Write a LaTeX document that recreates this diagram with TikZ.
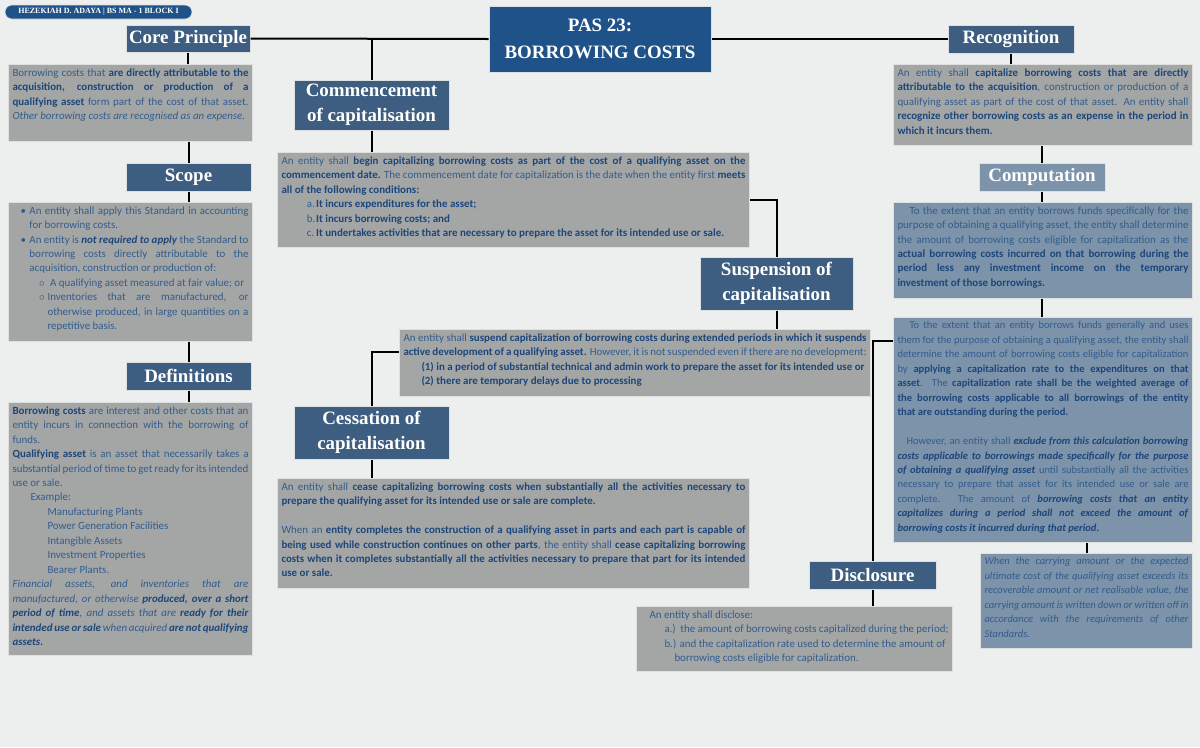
\documentclass[tikz,border=0pt]{standalone}
\usepackage{fontspec}
\setmainfont{Carlito}
\newfontfamily\headfont{Liberation Serif}
\usetikzlibrary{positioning}

\definecolor{pagebg}{RGB}{237,239,239}
\definecolor{titleblue}{RGB}{31,82,136}
\definecolor{headblue}{RGB}{61,94,128}
\definecolor{lightblue}{RGB}{124,147,170}
\definecolor{boxgray}{RGB}{164,166,166}
\definecolor{edge}{RGB}{222,224,224}
\definecolor{txtblue}{RGB}{50,92,140}
\definecolor{boldblue}{RGB}{28,70,122}

\newcommand{\keyterm}[1]{\textbf{\color{boldblue}#1}}
\newcommand{\boxtext}[3]{\begin{minipage}[c][#2][t]{#1}#3\end{minipage}}
\newcommand{\bulitem}[4]{\par\hangindent=#2\hangafter=1\noindent\hspace*{#1}\makebox[\dimexpr#2-#1\relax][l]{#3}#4\par}

\tikzset{
  header/.style={fill=headblue, draw=edge, line width=0.75pt, text=white, inner sep=0pt, align=center,
    font=\headfont\bfseries\fontsize{14.2}{18.75}\selectfont},
  infobox/.style={fill=boxgray, draw=edge, line width=0.75pt, text=txtblue, inner sep=3pt, anchor=north west,
    font=\fontsize{8.2}{10.85}\selectfont},
  bluebox/.style={infobox, fill=lightblue},
  small/.style={font=\fontsize{7.9}{10.85}\selectfont},
  link/.style={line width=1.5pt, black}
}

\begin{document}
\begin{tikzpicture}[x=0.75pt,y=0.75pt,yscale=-1,xscale=1]
\fill[pagebg, use as bounding box] (0,0) rectangle (1200,747);

% author tag and title
\node[fill=titleblue, draw=edge, line width=0.5pt, rounded corners=5.25pt, minimum width=140.25pt, minimum height=10.5pt,
  inner sep=0pt, text=white, font=\headfont\bfseries\fontsize{6}{7}\selectfont] (author) at (98.5,12) {HEZEKIAH D. ADAYA | BS MA - 1 BLOCK I};
\node[header, fill=titleblue, minimum width=166.5pt, minimum height=49.5pt, font=\headfont\bfseries\fontsize{14.2}{20.25}\selectfont] (title) at (600,39) {PAS 23:\\BORROWING COSTS};

% left column
\node[header, minimum width=93pt, minimum height=20.25pt] (core) at (188,38.5) {Core Principle};
\node[infobox] (coreTxt) at (8,64) {\boxtext{177pt}{51.75pt}{%
Borrowing costs that \keyterm{are directly attributable to the}\linebreak
\keyterm{acquisition, construction or production of a}\linebreak
\keyterm{qualifying asset} form part of the cost of that asset.\linebreak
\textit{Other borrowing costs are recognised as an expense.}}};

\node[header, minimum width=93.75pt, minimum height=21pt] (scope) at (188.5,177) {Scope};
\node[infobox] (scopeTxt) at (8,202) {\boxtext{177pt}{98.25pt}{%
\bulitem{6pt}{12.75pt}{\textbullet}{An entity shall apply this Standard in accounting\linebreak for borrowing costs.}
\bulitem{6pt}{12.75pt}{\textbullet}{An entity is \keyterm{\textit{not required to apply}} the Standard to\linebreak
 borrowing costs directly attributable to the\linebreak acquisition, construction or production of:}
\bulitem{20pt}{26.25pt}{$\circ$}{\hspace{2pt}A qualifying asset measured at fair value; or}
\bulitem{20pt}{26.25pt}{$\circ$}{Inventories that are manufactured, or\linebreak
 otherwise produced, in large quantities on a\linebreak repetitive basis.}}};

\node[header, minimum width=93.75pt, minimum height=21pt] (defs) at (188.5,376) {Definitions};
\node[infobox] (defTxt) at (8,402) {\boxtext{177pt}{183.75pt}{%
\keyterm{Borrowing costs} are interest and other costs that an\linebreak
entity incurs in connection with the borrowing of\linebreak funds.\\
\keyterm{Qualifying asset} is an asset that necessarily takes a\linebreak
substantial period of time to get ready for its intended\linebreak use or sale.\\
\hspace*{13.5pt}Example:\\
\hspace*{26.25pt}Manufacturing Plants\\
\hspace*{26.25pt}Power Generation Facilities\\
\hspace*{26.25pt}Intangible Assets\\
\hspace*{26.25pt}Investment Properties\\
\hspace*{26.25pt}Bearer Plants.\\
\textit{Financial assets, and inventories that are\linebreak
manufactured, or otherwise \keyterm{produced, over a short}\linebreak
\keyterm{period of time}, and assets that are \keyterm{ready for their}\linebreak
\keyterm{intended use or sale} when acquired \keyterm{are not qualifying}\linebreak
\keyterm{assets.}}}};

% middle column
\node[header, minimum width=116.25pt, minimum height=37.5pt] (commence) at (371.5,105) {Commencement\\of capitalisation};
\node[infobox] (commTxt) at (277,152) {\boxtext{348pt}{65.25pt}{%
An entity shall \keyterm{begin capitalizing borrowing costs as part of the cost of a qualifying asset on the}\linebreak
\keyterm{commencement date.} The commencement date for capitalization is the date when the entity first \keyterm{meets}\linebreak
\keyterm{all of the following conditions:}\\
\hspace*{19pt}\makebox[7pt][l]{a.}\keyterm{It incurs expenditures for the asset;}\\
\hspace*{19pt}\makebox[7pt][l]{b.}\keyterm{It incurs borrowing costs; and}\\
\hspace*{19pt}\makebox[7pt][l]{c.}\keyterm{It undertakes activities that are necessary to prepare the asset for its intended use or sale.}}};

\node[header, minimum width=114.75pt, minimum height=39.75pt] (suspend) at (776.5,283.5) {Suspension of\\capitalisation};
\node[infobox] (suspTxt) at (399,329) {\boxtext{347.25pt}{44.25pt}{%
An entity shall \keyterm{suspend capitalization of borrowing costs during extended periods in which it suspends}\linebreak
\keyterm{active development of a qualifying asset.} However, it is not suspended even if there are no development:\\
\hspace*{13.5pt}\keyterm{(1) in a period of substantial technical and admin work to prepare the asset for its intended use or}\\
\hspace*{13.5pt}\keyterm{(2) there are temporary delays due to processing}}};

\node[header, minimum width=116.25pt, minimum height=39.75pt] (cess) at (371.5,432.5) {Cessation of\\capitalisation};
\node[infobox] (cessTxt) at (277,478) {\boxtext{348pt}{76.5pt}{%
An entity shall \keyterm{cease capitalizing borrowing costs when substantially all the activities necessary to}\linebreak
\keyterm{prepare the qualifying asset for its intended use or sale are complete.}\\[10.85pt]
When an \keyterm{entity completes the construction of a qualifying asset in parts and each part is capable of}\linebreak
\keyterm{being used while construction continues on other parts}, the entity shall \keyterm{cease capitalizing borrowing}\linebreak
\keyterm{costs when it completes substantially all the activities necessary to prepare that part for its intended}\linebreak
\keyterm{use or sale.}}};

\node[header, minimum width=95.25pt, minimum height=21pt] (disc) at (872.5,575) {Disclosure};
\node[infobox] (discTxt) at (636,606) {\boxtext{231pt}{42.75pt}{%
\hspace*{6.75pt}An entity shall disclose:\\
\hspace*{18pt}a.)\ \ the amount of borrowing costs capitalized during the period;\\
\hspace*{18pt}b.) and the capitalization rate used to determine the amount of\\
\hspace*{25.5pt}borrowing costs eligible for capitalization.}};

% right column
\node[header, minimum width=94.5pt, minimum height=21pt] (recog) at (1011,39) {Recognition};
\node[infobox] (recogTxt) at (893,64) {\boxtext{218.25pt}{54.75pt}{%
An entity shall \keyterm{capitalize borrowing costs that are directly}\linebreak
\keyterm{attributable to the acquisition}, construction or production of a\linebreak
qualifying asset as part of the cost of that asset. An entity shall\linebreak
\keyterm{recognize other borrowing costs as an expense in the period in}\linebreak
\keyterm{which it incurs them.}}};

\node[header, fill=lightblue, minimum width=94.5pt, minimum height=21pt] (comp) at (1042,177) {Computation};
\node[bluebox] (compSpec) at (893,202) {\boxtext{218.25pt}{66pt}{%
\hspace*{9pt}To the extent that an entity borrows funds specifically for the\linebreak
purpose of obtaining a qualifying asset, the entity shall determine\linebreak
the amount of borrowing costs eligible for capitalization as the\linebreak
\keyterm{actual borrowing costs incurred on that borrowing during the}\linebreak
\keyterm{period less any investment income on the temporary}\linebreak
\keyterm{investment of those borrowings.}}};
\node[bluebox, small] (compGen) at (893,317) {\boxtext{218.25pt}{162.75pt}{%
\hspace*{9pt}To the extent that an entity borrows funds generally and uses\linebreak
them for the purpose of obtaining a qualifying asset, the entity shall\linebreak
determine the amount of borrowing costs eligible for capitalization\linebreak
by \keyterm{applying a capitalization rate to the expenditures on that}\linebreak
\keyterm{asset}. The \keyterm{capitalization rate shall be the weighted average of}\linebreak
\keyterm{the borrowing costs applicable to all borrowings of the entity}\linebreak
\keyterm{that are outstanding during the period.}\\[10.85pt]
\hspace*{6.75pt}However, an entity shall \keyterm{\textit{exclude from this calculation borrowing}}\linebreak
\keyterm{\textit{costs applicable to borrowings made specifically for the purpose}}\linebreak
\keyterm{\textit{of obtaining a qualifying asset}} until substantially all the activities\linebreak
necessary to prepare that asset for its intended use or sale are\linebreak
complete. The amount of \keyterm{\textit{borrowing costs that an entity}}\linebreak
\keyterm{\textit{capitalizes during a period shall not exceed the amount of}}\linebreak
\keyterm{\textit{borrowing costs it incurred during that period.}}}};
\node[bluebox, small] (impair) at (980,553) {\boxtext{153pt}{65.25pt}{%
\textit{When the carrying amount or the expected\linebreak
ultimate cost of the qualifying asset exceeds its\linebreak
recoverable amount or net realisable value, the\linebreak
carrying amount is written down or written off in\linebreak
accordance with the requirements of other\linebreak
Standards.}}};

% connectors
\draw[link] (core.east) -- (title.west);
\draw[link] (title.east) -- (recog.west);
\draw[link] (core.south) -- (core.south |- coreTxt.north);
\draw[link] (scope.north |- coreTxt.south) -- (scope.north);
\draw[link] (scope.south) -- (scope.south |- scopeTxt.north);
\draw[link] (defs.north |- scopeTxt.south) -- (defs.north);
\draw[link] (defs.south) -- (defs.south |- defTxt.north);
\draw[link] (commence.north |- title.west) -- (commence.north);
\draw[link] (commence.south) -- (commence.south |- commTxt.north);
\draw[link] (commTxt.east) -| (suspend.north);
\draw[link] (suspend.south) -- (suspend.south |- suspTxt.north);
\draw[link] ([yshift=-8pt]suspTxt.west) -| (cess.north);
\draw[link] (cess.south) -- (cess.south |- cessTxt.north);
\draw[link] (recog.south) -- (recog.south |- recogTxt.north);
\draw[link] (comp.north |- recogTxt.south) -- (comp.north);
\draw[link] (comp.south) -- (comp.south |- compSpec.north);
\draw[link] (comp.south |- compSpec.south) -- (comp.south |- compGen.north);
\draw[link] ([yshift=-67pt]compGen.west) -| (disc.north);
\draw[link] (disc.south) -- (disc.south |- discTxt.north);
\draw[link] (impair.north |- compGen.south) -- (impair.north);
\end{tikzpicture}
\end{document}
